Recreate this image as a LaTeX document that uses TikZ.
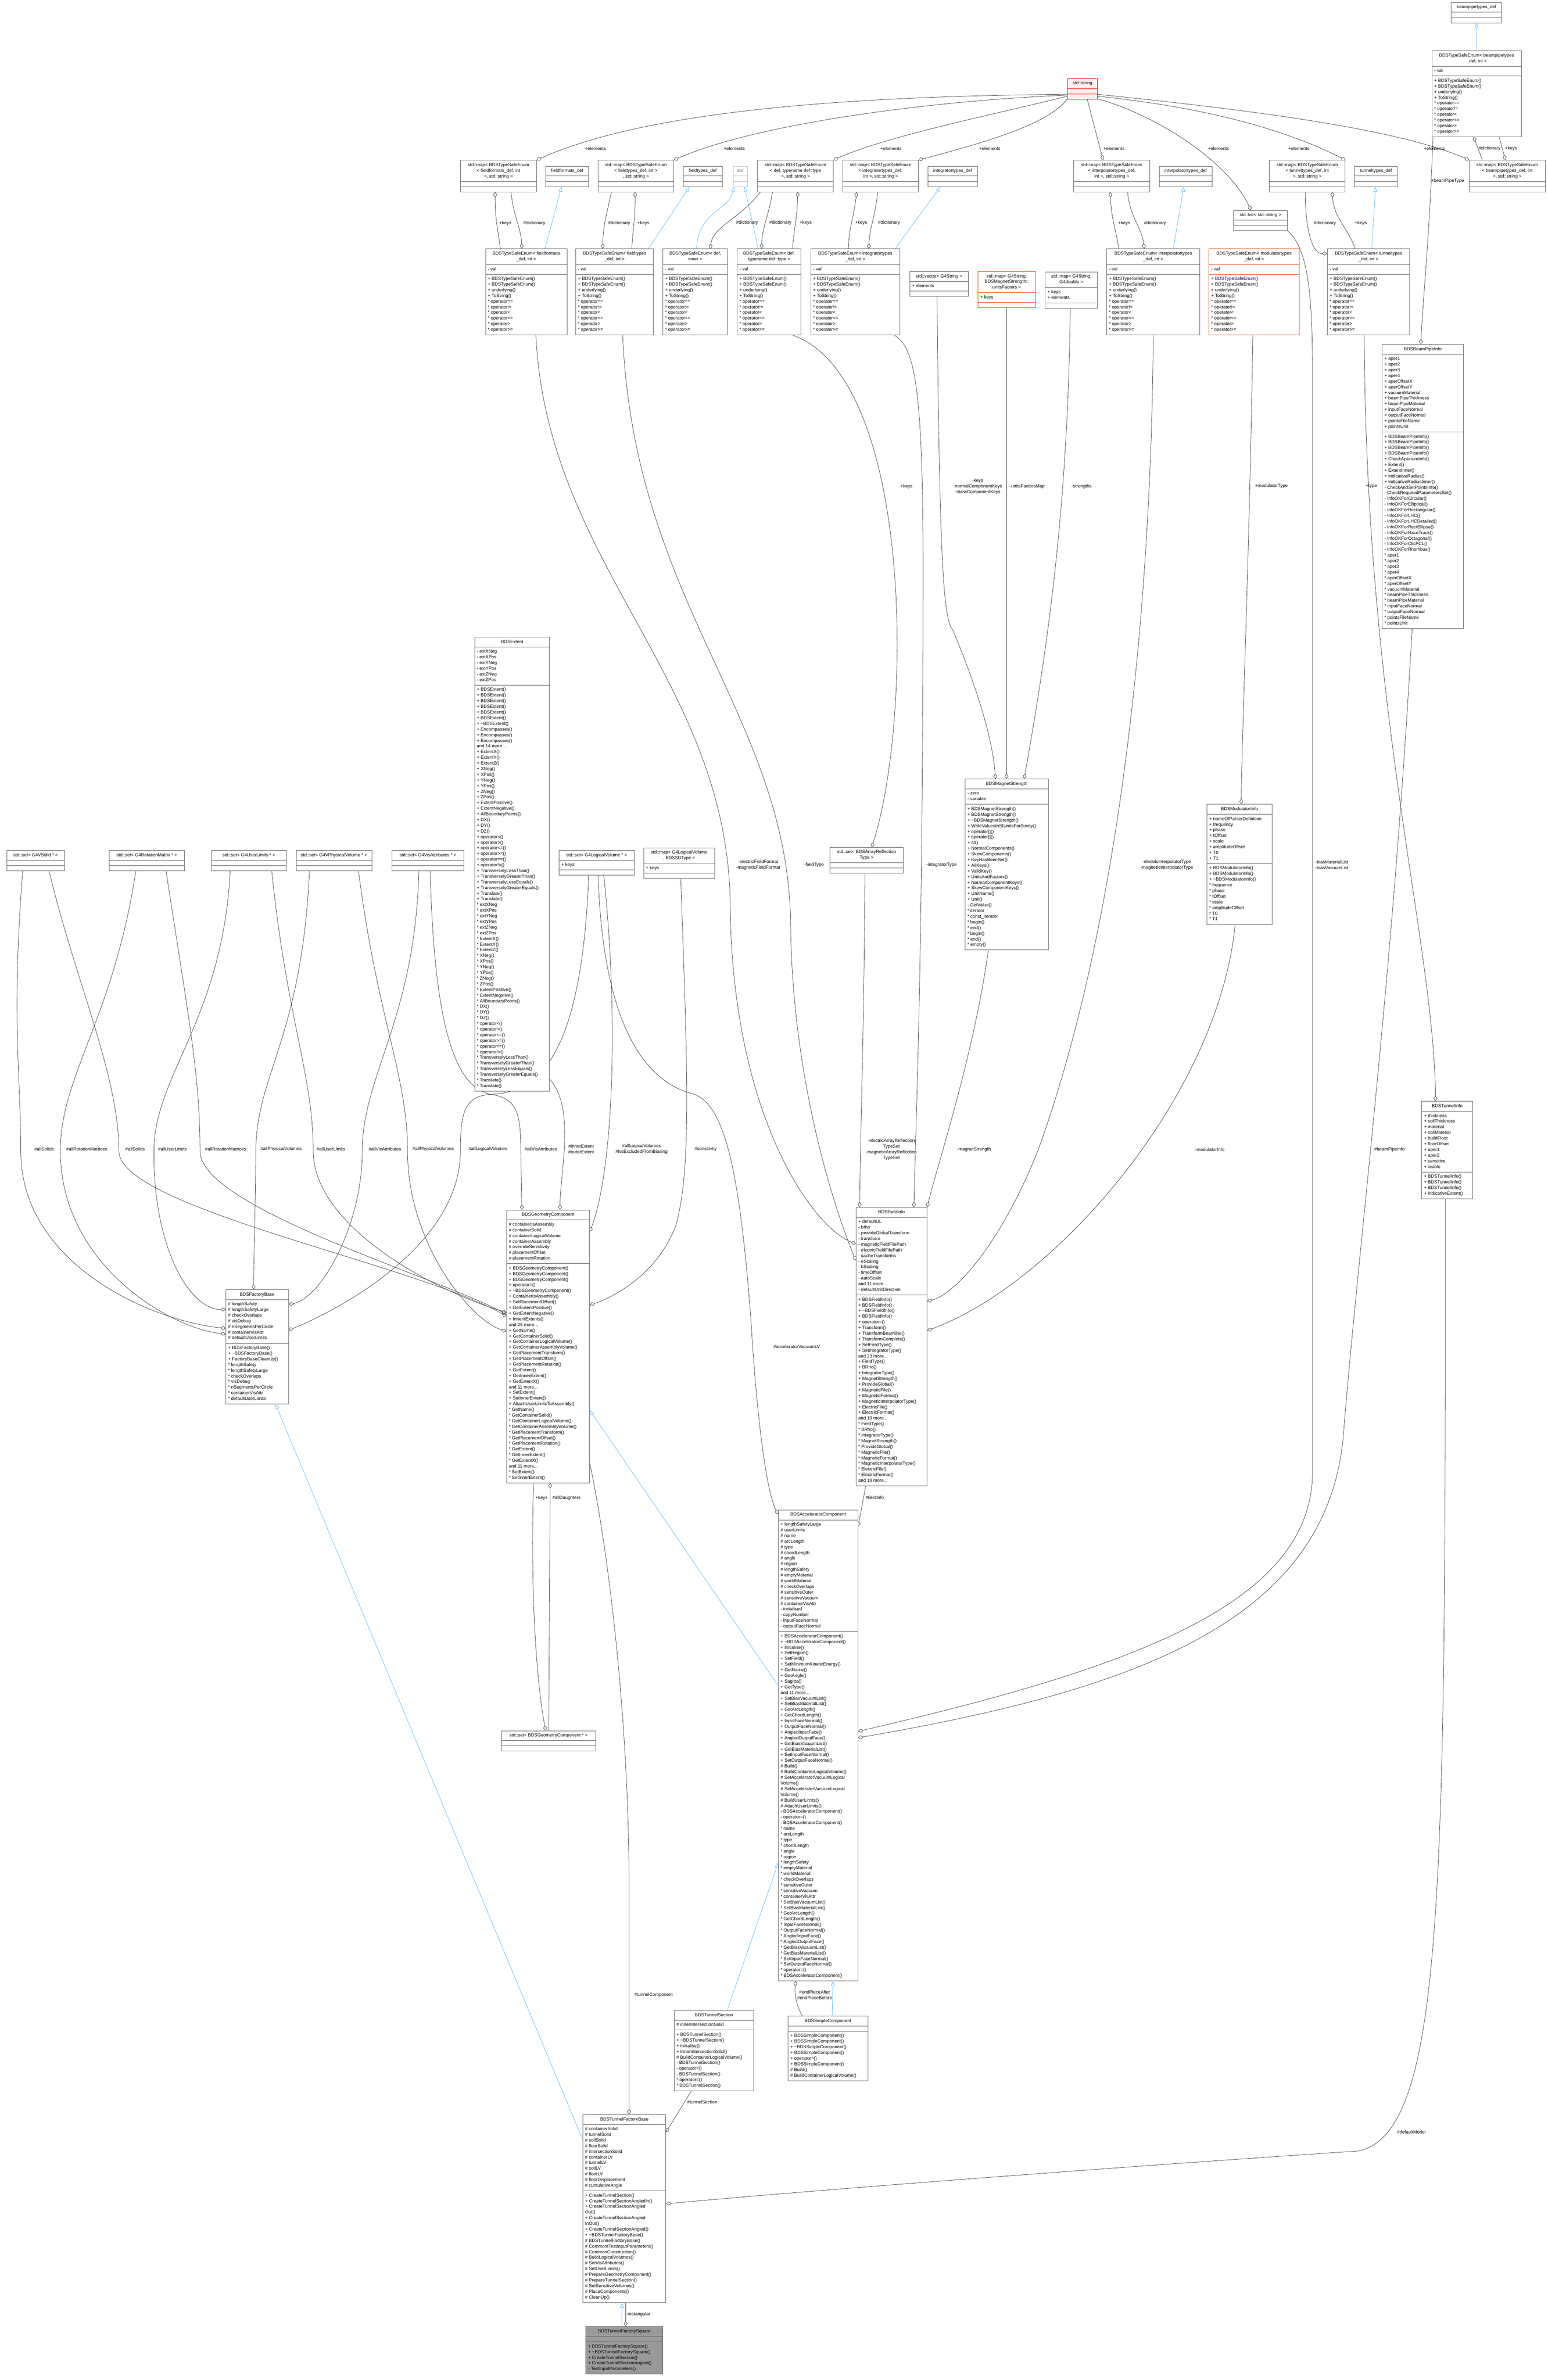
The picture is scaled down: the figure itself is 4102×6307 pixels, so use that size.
\documentclass[tikz,border=0pt]{standalone}
\usepackage{fontspec}
\setmainfont{Liberation Sans}
\usetikzlibrary{shapes.multipart,arrows.meta}
\definecolor{boxc}{HTML}{666666}
\definecolor{edgec}{HTML}{404040}
\definecolor{inhc}{HTML}{63B8FF}
\definecolor{redc}{HTML}{FF0000}
\definecolor{redf}{HTML}{FFF0F0}
\definecolor{orc}{HTML}{F4511E}
\definecolor{greyf}{HTML}{999999}
\definecolor{defc}{HTML}{BFBFBF}
\pgfdeclarelayer{bg}
\pgfsetlayers{bg,main}
\newcommand\fs{\fontsize{6}{7.5}\selectfont}
\newcommand\cT[1]{\begin{tabular}{@{}c@{}}#1\end{tabular}}
\newcommand\cM[1]{\begin{tabular}{@{}l@{}}#1\end{tabular}}
\newcommand\tld{\textasciitilde}
\newcommand\tsem{+ BDSTypeSafeEnum()\\+ BDSTypeSafeEnum()\\+ underlying()\\+ ToString()\\{*} operator==\\{*} operator!=\\{*} operator<\\{*} operator<=\\{*} operator>\\{*} operator>=}
\newcommand\cls[7][]{\node[cbox,minimum width=#4*0.5pt,#1] (#2) at (#3) {\cT{#5}\nodepart{two}\cM{#6}\nodepart{three}\cM{#7}};}
\tikzset{
 cbox/.style={rectangle split, rectangle split parts=3, draw=boxc, fill=white, line width=0.5pt, inner xsep=3pt, inner ysep=2.5pt, anchor=north west, font=\fs, rectangle split part align={center,left,left}},
 redbox/.style={draw=redc, fill=redf},
 orbox/.style={draw=orc},
 defbox/.style={draw=defc, text=black!60},
 thisbox/.style={fill=greyf, draw=boxc},
 agg/.style={draw=edgec, line width=0.5pt, -{Diamond[open,length=7pt,width=5pt]}},
 inh/.style={draw=inhc, line width=0.5pt, -{Triangle[open,length=6.5pt,width=5pt]}},
 lbl/.style={font=\fs, align=center, inner sep=0pt, text=black}
}
\begin{document}
\begin{tikzpicture}[x=0.5pt,y=-0.5pt]
\useasboundingbox (0,0) rectangle (4102,6307);
% ---------------- classes ----------------
\cls{bptdef}{3845,6}{134}{beampipetypes\_def}{}{}
\cls{tsebp}{3794,134}{237}{BDSTypeSafeEnum< beampipetypes\\\_def, int >}{- val}{\tsem}
\cls[redbox]{str}{2828,208}{80}{std::string}{}{}
\cls{mapff}{1220,424}{201}{std::map< BDSTypeSafeEnum\\< fieldformats\_def, int\\ >, std::string >}{}{}
\cls{ffdef}{1446,440}{113}{fieldformats\_def}{}{}
\cls{mapft}{1584,424}{201}{std::map< BDSTypeSafeEnum\\< fieldtypes\_def, int >\\, std::string >}{}{}
\cls{ftdef}{1810,440}{103}{fieldtypes\_def}{}{}
\cls[defbox]{defb}{1942,440}{38}{def}{}{}
\cls{mapdef}{2007,424}{201}{std::map< BDSTypeSafeEnum\\< def, typename def::type\\ >, std::string >}{}{}
\cls{mapit}{2233,424}{200}{std::map< BDSTypeSafeEnum\\< integratortypes\_def,\\ int >, std::string >}{}{}
\cls{itdef}{2458,440}{132}{integratortypes\_def}{}{}
\cls{mapip}{2845,424}{201}{std::map< BDSTypeSafeEnum\\< interpolatortypes\_def,\\ int >, std::string >}{}{}
\cls{ipdef}{3071,440}{141}{interpolatortypes\_def}{}{}
\cls{maptt}{3363,424}{201}{std::map< BDSTypeSafeEnum\\< tunneltypes\_def, int\\ >, std::string >}{}{}
\cls{ttdef}{3589,440}{113}{tunneltypes\_def}{}{}
\cls{mapbp}{3893,424}{201}{std::map< BDSTypeSafeEnum\\< beampipetypes\_def, int\\ >, std::string >}{}{}
\cls{lst}{3268,557}{143}{std::list< std::string >}{}{}
\cls{tseff}{1286,659}{216}{BDSTypeSafeEnum< fieldformats\\\_def, int >}{- val}{\tsem}
\cls{tseft}{1525,659}{206}{BDSTypeSafeEnum< fieldtypes\\\_def, int >}{- val}{\tsem}
\cls{tsedi}{1756,659}{172}{BDSTypeSafeEnum< def,\\ inner >}{- val}{\tsem}
\cls{tsedt}{1953,659}{169}{BDSTypeSafeEnum< def,\\ typename def::type >}{- val}{\tsem}
\cls{tseit}{2148,659}{236}{BDSTypeSafeEnum< integratortypes\\\_def, int >}{- val}{\tsem}
\cls{tseip}{2932,659}{247}{BDSTypeSafeEnum< interpolatortypes\\\_def, int >}{- val}{\tsem}
\cls[orbox]{tsemod}{3203,659}{239}{BDSTypeSafeEnum< modulatortypes\\\_def, int >}{- val}{\tsem}
\cls{tsett}{3517,659}{218}{BDSTypeSafeEnum< tunneltypes\\\_def, int >}{- val}{\tsem}
\cls{vec}{2410,719}{156}{std::vector< G4String >}{+ elements}{}
\cls[orbox]{mapuf}{2591,719}{152}{std::map< G4String,\\ BDSMagnetStrength::\\ unitsFactors >}{+ keys}{}
\cls{mapgd}{2769,720}{139}{std::map< G4String,\\ G4double >}{+ keys\\+ elements}{}
\cls{bpi}{3662,912}{215}{BDSBeamPipeInfo}{+ aper1\\+ aper2\\+ aper3\\+ aper4\\+ aperOffsetX\\+ aperOffsetY\\+ vacuumMaterial\\+ beamPipeThickness\\+ beamPipeMaterial\\+ inputFaceNormal\\+ outputFaceNormal\\+ pointsFileName\\+ pointsUnit}{+ BDSBeamPipeInfo()\\+ BDSBeamPipeInfo()\\+ BDSBeamPipeInfo()\\+ BDSBeamPipeInfo()\\+ CheckApertureInfo()\\+ Extent()\\+ ExtentInner()\\+ IndicativeRadius()\\+ IndicativeRadiusInner()\\- CheckAndSetPointsInfo()\\- CheckRequiredParametersSet()\\- InfoOKForCircular()\\- InfoOKForElliptical()\\- InfoOKForRectangular()\\- InfoOKForLHC()\\- InfoOKForLHCDetailed()\\- InfoOKForRectEllipse()\\- InfoOKForRaceTrack()\\- InfoOKForOctagonal()\\- InfoOKForClicPCL()\\- InfoOKForRhombus()\\{*} aper1\\{*} aper2\\{*} aper3\\{*} aper4\\{*} aperOffsetX\\{*} aperOffsetY\\{*} vacuumMaterial\\{*} beamPipeThickness\\{*} beamPipeMaterial\\{*} inputFaceNormal\\{*} outputFaceNormal\\{*} pointsFileName\\{*} pointsUnit}
\cls{ext}{1257,1688}{199}{BDSExtent}{- extXNeg\\- extXPos\\- extYNeg\\- extYPos\\- extZNeg\\- extZPos}{+ BDSExtent()\\+ BDSExtent()\\+ BDSExtent()\\+ BDSExtent()\\+ BDSExtent()\\+ BDSExtent()\\+ \tld{}BDSExtent()\\+ Encompasses()\\+ Encompasses()\\+ Encompasses()\\and 14 more...\\+ ExtentX()\\+ ExtentY()\\+ ExtentZ()\\+ XNeg()\\+ XPos()\\+ YNeg()\\+ YPos()\\+ ZNeg()\\+ ZPos()\\+ ExtentPositive()\\+ ExtentNegative()\\+ AllBoundaryPoints()\\+ DX()\\+ DY()\\+ DZ()\\+ operator<()\\+ operator>()\\+ operator<=()\\+ operator>=()\\+ operator==()\\+ operator!=()\\+ TransverselyLessThan()\\+ TransverselyGreaterThan()\\+ TransverselyLessEquals()\\+ TransverselyGreaterEquals()\\+ Translate()\\+ Translate()\\{*} extXNeg\\{*} extXPos\\{*} extYNeg\\{*} extYPos\\{*} extZNeg\\{*} extZPos\\{*} ExtentX()\\{*} ExtentY()\\{*} ExtentZ()\\{*} XNeg()\\{*} XPos()\\{*} YNeg()\\{*} YPos()\\{*} ZNeg()\\{*} ZPos()\\{*} ExtentPositive()\\{*} ExtentNegative()\\{*} AllBoundaryPoints()\\{*} DX()\\{*} DY()\\{*} DZ()\\{*} operator<()\\{*} operator>()\\{*} operator<=()\\{*} operator>=()\\{*} operator==()\\{*} operator!=()\\{*} TransverselyLessThan()\\{*} TransverselyGreaterThan()\\{*} TransverselyLessEquals()\\{*} TransverselyGreaterEquals()\\{*} Translate()\\{*} Translate()}
\cls{sSolid}{18,2253}{152}{std::set< G4VSolid * >}{}{}
\cls{sRot}{289,2253}{199}{std::set< G4RotationMatrix * >}{}{}
\cls{sUL}{560,2253}{198}{std::set< G4UserLimits * >}{}{}
\cls{sPV}{784,2253}{201}{std::set< G4VPhysicalVolume * >}{}{}
\cls{sVis}{1038,2253}{191}{std::set< G4VisAttributes * >}{}{}
\cls{sLV}{1481,2253}{199}{std::set< G4LogicalVolume * >}{+ keys}{}
\cls{mSD}{1705,2246}{188}{std::map< G4LogicalVolume\\ *, BDSSDType >}{+ keys}{}
\cls{sAR}{2199,2245}{194}{std::set< BDSArrayReflection\\Type >}{}{}
\cls{magstr}{2557,2064}{220}{BDSMagnetStrength}{- zero\\- variable}{+ BDSMagnetStrength()\\+ BDSMagnetStrength()\\+ \tld{}BDSMagnetStrength()\\+ WriteValuesInSIUnitsForSuvey()\\+ operator[]()\\+ operator[]()\\+ at()\\+ NormalComponents()\\+ SkewComponents()\\+ KeyHasBeenSet()\\+ AllKeys()\\+ ValidKey()\\+ UnitsAndFactors()\\+ NormalComponentKeys()\\+ SkewComponentKeys()\\+ UnitName()\\+ Unit()\\- GetValue()\\{*} iterator\\{*} const\_iterator\\{*} begin()\\{*} end()\\{*} begin()\\{*} end()\\{*} empty()}
\cls{modinfo}{3198,2131}{172}{BDSModulatorInfo}{+ nameOfParserDefinition\\+ frequency\\+ phase\\+ tOffset\\+ scale\\+ amplitudeOffset\\+ T0\\+ T1}{+ BDSModulatorInfo()\\+ BDSModulatorInfo()\\+ \tld{}BDSModulatorInfo()\\{*} frequency\\{*} phase\\{*} tOffset\\{*} scale\\{*} amplitudeOffset\\{*} T0\\{*} T1}
\cls{tinfo}{3767,2918}{135}{BDSTunnelInfo}{+ thickness\\+ soilThickness\\+ material\\+ soilMaterial\\+ buildFloor\\+ floorOffset\\+ aper1\\+ aper2\\+ sensitive\\+ visible}{+ BDSTunnelInfo()\\+ BDSTunnelInfo()\\+ BDSTunnelInfo()\\+ IndicativeExtent()}
\cls{fbase}{598,3417}{166}{BDSFactoryBase}{\# lengthSafety\\\# lengthSafetyLarge\\\# checkOverlaps\\\# visDebug\\\# nSegmentsPerCircle\\\# containerVisAttr\\\# defaultUserLimits}{+ BDSFactoryBase()\\+ \tld{}BDSFactoryBase()\\+ FactoryBaseCleanUp()\\{*} lengthSafety\\{*} lengthSafetyLarge\\{*} checkOverlaps\\{*} visDebug\\{*} nSegmentsPerCircle\\{*} containerVisAttr\\{*} defaultUserLimits}
\cls{geom}{1342,3206}{220}{BDSGeometryComponent}{\# containerIsAssembly\\\# containerSolid\\\# containerLogicalVolume\\\# containerAssembly\\\# overrideSensitivity\\\# placementOffset\\\# placementRotation}{+ BDSGeometryComponent()\\+ BDSGeometryComponent()\\+ BDSGeometryComponent()\\+ operator=()\\+ \tld{}BDSGeometryComponent()\\+ ContainerIsAssembly()\\+ SetPlacementOffset()\\+ GetExtentPositive()\\+ GetExtentNegative()\\+ InheritExtents()\\and 25 more...\\+ GetName()\\+ GetContainerSolid()\\+ GetContainerLogicalVolume()\\+ GetContainerAssemblyVolume()\\+ GetPlacementTransform()\\+ GetPlacementOffset()\\+ GetPlacementRotation()\\+ GetExtent()\\+ GetInnerExtent()\\+ GetExtentX()\\and 11 more...\\+ SetExtent()\\+ SetInnerExtent()\\+ AttachUserLimitsToAssembly()\\{*} GetName()\\{*} GetContainerSolid()\\{*} GetContainerLogicalVolume()\\{*} GetContainerAssemblyVolume()\\{*} GetPlacementTransform()\\{*} GetPlacementOffset()\\{*} GetPlacementRotation()\\{*} GetExtent()\\{*} GetInnerExtent()\\{*} GetExtentX()\\and 11 more...\\{*} SetExtent()\\{*} SetInnerExtent()}
\cls{finfo}{2268,3199}{188}{BDSFieldInfo}{+ defaultUL\\- brho\\- provideGlobalTransform\\- transform\\- magneticFieldFilePath\\- electricFieldFilePath\\- cacheTransforms\\- eScaling\\- bScaling\\- timeOffset\\- autoScale\\and 11 more...\\- defaultUnitDirection}{+ BDSFieldInfo()\\+ BDSFieldInfo()\\+ \tld{}BDSFieldInfo()\\+ BDSFieldInfo()\\+ operator=()\\+ Transform()\\+ TransformBeamline()\\+ TransformComplete()\\+ SetFieldType()\\+ SetIntegratorType()\\and 23 more...\\+ FieldType()\\+ BRho()\\+ IntegratorType()\\+ MagnetStrength()\\+ ProvideGlobal()\\+ MagneticFile()\\+ MagneticFormat()\\+ MagneticInterpolatorType()\\+ ElectricFile()\\+ ElectricFormat()\\and 19 more...\\{*} FieldType()\\{*} BRho()\\{*} IntegratorType()\\{*} MagnetStrength()\\{*} ProvideGlobal()\\{*} MagneticFile()\\{*} MagneticFormat()\\{*} MagneticInterpolatorType()\\{*} ElectricFile()\\{*} ElectricFormat()\\and 19 more...}
\cls{acc}{2062,4001}{211}{BDSAcceleratorComponent}{+ lengthSafetyLarge\\\# userLimits\\\# name\\\# arcLength\\\# type\\\# chordLength\\\# angle\\\# region\\\# lengthSafety\\\# emptyMaterial\\\# worldMaterial\\\# checkOverlaps\\\# sensitiveOuter\\\# sensitiveVacuum\\\# containerVisAttr\\- initialised\\- copyNumber\\- inputFaceNormal\\- outputFaceNormal}{+ BDSAcceleratorComponent()\\+ \tld{}BDSAcceleratorComponent()\\+ Initialise()\\+ SetRegion()\\+ SetField()\\+ SetMinimumKineticEnergy()\\+ GetName()\\+ GetAngle()\\+ Sagitta()\\+ GetType()\\and 11 more...\\+ SetBiasVacuumList()\\+ SetBiasMaterialList()\\+ GetArcLength()\\+ GetChordLength()\\+ InputFaceNormal()\\+ OutputFaceNormal()\\+ AngledInputFace()\\+ AngledOutputFace()\\+ GetBiasVacuumList()\\+ GetBiasMaterialList()\\+ SetInputFaceNormal()\\+ SetOutputFaceNormal()\\\# Build()\\\# BuildContainerLogicalVolume()\\\# SetAcceleratorVacuumLogical\\Volume()\\\# SetAcceleratorVacuumLogical\\Volume()\\\# BuildUserLimits()\\\# AttachUserLimits()\\- BDSAcceleratorComponent()\\- operator=()\\- BDSAcceleratorComponent()\\{*} name\\{*} arcLength\\{*} type\\{*} chordLength\\{*} angle\\{*} region\\{*} lengthSafety\\{*} emptyMaterial\\{*} worldMaterial\\{*} checkOverlaps\\{*} sensitiveOuter\\{*} sensitiveVacuum\\{*} containerVisAttr\\{*} SetBiasVacuumList()\\{*} SetBiasMaterialList()\\{*} GetArcLength()\\{*} GetChordLength()\\{*} InputFaceNormal()\\{*} OutputFaceNormal()\\{*} AngledInputFace()\\{*} AngledOutputFace()\\{*} GetBiasVacuumList()\\{*} GetBiasMaterialList()\\{*} SetInputFaceNormal()\\{*} SetOutputFaceNormal()\\{*} operator=()\\{*} BDSAcceleratorComponent()}
\cls{sgc}{1328,4586}{250}{std::set< BDSGeometryComponent * >}{}{}
\cls{tsec}{1786,5327}{211}{BDSTunnelSection}{\# innerIntersectionSolid}{+ BDSTunnelSection()\\+ \tld{}BDSTunnelSection()\\+ Initialise()\\+ InnerIntersectionSolid()\\\# BuildContainerLogicalVolume()\\- BDSTunnelSection()\\- operator=()\\- BDSTunnelSection()\\{*} operator=()\\{*} BDSTunnelSection()}
\cls{simple}{2088,5342}{211}{BDSSimpleComponent}{}{+ BDSSimpleComponent()\\+ BDSSimpleComponent()\\+ \tld{}BDSSimpleComponent()\\+ BDSSimpleComponent()\\+ operator=()\\+ BDSSimpleComponent()\\\# Build()\\\# BuildContainerLogicalVolume()}
\cls{tfb}{1544,5603}{220}{BDSTunnelFactoryBase}{\# containerSolid\\\# tunnelSolid\\\# soilSolid\\\# floorSolid\\\# intersectionSolid\\\# containerLV\\\# tunnelLV\\\# soilLV\\\# floorLV\\\# floorDisplacement\\\# cumulativeAngle}{+ CreateTunnelSection()\\+ CreateTunnelSectionAngledIn()\\+ CreateTunnelSectionAngled\\Out()\\+ CreateTunnelSectionAngled\\InOut()\\+ CreateTunnelSectionAngled()\\+ \tld{}BDSTunnelFactoryBase()\\\# BDSTunnelFactoryBase()\\\# CommontTestInputParameters()\\\# CommonConstruction()\\\# BuildLogicalVolumes()\\\# SetVisAttributes()\\\# SetUserLimits()\\\# PrepareGeometryComponent()\\\# PrepareTunnelSection()\\\# SetSensitiveVolumes()\\\# PlaceComponents()\\\# CleanUp()}
\cls[thisbox]{tfs}{1552,6165}{204}{BDSTunnelFactorySquare}{}{+ BDSTunnelFactorySquare()\\+ \tld{}BDSTunnelFactorySquare()\\+ CreateTunnelSection()\\+ CreateTunnelSectionAngled()\\- TestInputParameters()}
% ---------------- connectors ----------------
\begin{pgfonlayer}{bg}
\fill[white] (0,0) rectangle (4102,6307);
% std::string -> containers
\draw[agg] (str.west |- 0,250) .. controls (2200,255) and (1700,300) .. (mapff.north east);
\draw[agg] (str.west |- 0,252) .. controls (2450,268) and (2000,330) .. (mapft.north east);
\draw[agg] (str.west |- 0,255) .. controls (2650,300) and (2350,360) .. (mapdef.north east);
\draw[agg] (str.west |- 0,262) .. controls (2780,330) and (2600,380) .. (mapit.north east);
\draw[agg] (str.south -| 2881,0) -- (mapip.north -| 2923,0);
\draw[agg] (str.east |- 0,262) .. controls (3050,300) and (3250,420) .. (lst.north -| 3315,0);
\draw[agg] (str.east |- 0,255) .. controls (3150,280) and (3380,330) .. (maptt.north east);
\draw[agg] (str.east |- 0,250) .. controls (3300,290) and (3700,340) .. (mapbp.north west);
% beampipetypes
\draw[inh] (tsebp.north -| 3913,0) -- (bptdef.south -| 3913,0);
\draw[agg] (mapbp.north -| 3928,0) -- (tsebp.south -| 3905,0);
\draw[agg] (tsebp.south -| 3973,0) -- (mapbp.north -| 3989,0);
\draw[agg] (tsebp.south -| 3797,0) .. controls (3790,600) and (3770,800) .. (bpi.north -| 3765,0);
% fieldformats
\draw[agg] (tseff.north -| 1326,0) .. controls (1318,600) and (1312,580) .. (mapff.south -| 1312,0);
\draw[agg] (mapff.south -| 1354,0) .. controls (1362,580) and (1380,600) .. (tseff.north -| 1383,0);
\draw[inh] (tseff.north -| 1444,0) -- (ffdef.south -| 1488,0);
% fieldtypes
\draw[agg] (mapft.south -| 1620,0) .. controls (1605,580) and (1598,600) .. (tseft.north -| 1597,0);
\draw[agg] (tseft.north -| 1674,0) .. controls (1678,600) and (1683,580) .. (mapft.south -| 1683,0);
\draw[inh] (tseft.north -| 1718,0) -- (ftdef.south -| 1827,0);
% def
\draw[inh] (tsedi.north -| 1846,0) .. controls (1850,560) and (1930,560) .. (defb.south -| 1945,0);
\draw[inh] (tsedt.north -| 2009,0) -- (defb.south -| 1973,0);
\draw[agg] (mapdef.south -| 2015,0) .. controls (1960,580) and (1890,600) .. (tsedi.north -| 1882,0);
\draw[agg] (mapdef.south -| 2047,0) .. controls (2035,580) and (2020,600) .. (tsedt.north -| 2018,0);
\draw[agg] (tsedt.north -| 2100,0) .. controls (2105,600) and (2112,580) .. (mapdef.south -| 2114,0);
% integratortypes
\draw[agg] (tseit.north -| 2248,0) .. controls (2250,600) and (2262,580) .. (mapit.south -| 2270,0);
\draw[agg] (mapit.south -| 2326,0) .. controls (2318,580) and (2305,600) .. (tseit.north -| 2302,0);
\draw[inh] (tseit.north -| 2372,0) -- (itdef.south -| 2492,0);
% interpolatortypes
\draw[agg] (tseip.north -| 2965,0) .. controls (2955,600) and (2945,580) .. (mapip.south -| 2942,0);
\draw[agg] (mapip.south -| 2988,0) .. controls (2995,580) and (3025,600) .. (tseip.north -| 3032,0);
\draw[inh] (tseip.north -| 3109,0) -- (ipdef.south -| 3137,0);
% tunneltypes
\draw[agg] (maptt.south -| 3459,0) .. controls (3459,620) and (3480,672) .. (tsett.west |- 0,672);
\draw[agg] (tsett.north -| 3591,0) .. controls (3570,600) and (3535,580) .. (maptt.south -| 3530,0);
\draw[inh] (tsett.north -| 3635,0) -- (ttdef.south -| 3645,0);
% array reflection, field info
\draw[agg] (tsedt.south -| 2100,0) .. controls (2420,1000) and (2420,1900) .. (sAR.north -| 2310,0);
\draw[agg] (sAR.south -| 2292,0) .. controls (2290,2700) and (2280,3000) .. (finfo.north -| 2278,0);
\draw[agg] (tseft.south -| 1650,0) .. controls (1680,1600) and (2090,1900) .. (2095,2450) .. controls (2100,2900) and (2230,3250) .. (finfo.west |- 0,3340);
\draw[agg] (tseff.south -| 1420,0) .. controls (1450,1500) and (1930,1800) .. (1935,2400) .. controls (1940,2950) and (2150,3250) .. (finfo.west |- 0,3296);
\draw[agg] (tseit.south -| 2370,0) .. controls (2420,920) and (2446,1000) .. (2446,1500) .. controls (2446,2600) and (2425,3000) .. (finfo.north -| 2422,0);
\draw[agg] (vec.south -| 2483,0) .. controls (2490,1500) and (2500,1640) .. (2525,1670) .. controls (2580,1800) and (2630,1950) .. (magstr.north -| 2638,0);
\draw[agg] (mapuf.south -| 2667,0) -- (magstr.north -| 2667,0);
\draw[agg] (mapgd.south -| 2836,0) .. controls (2830,1400) and (2760,1800) .. (magstr.north -| 2714,0);
\draw[agg] (magstr.south -| 2619,0) .. controls (2580,2800) and (2480,3100) .. (finfo.north east);
\draw[agg] (tseip.south -| 3056,0) .. controls (3050,1700) and (2950,2500) .. (2750,3050) .. controls (2650,3300) and (2530,3430) .. (finfo.east |- 0,3448);
\draw[agg] (modinfo.south -| 3273,0) .. controls (3230,2900) and (2800,3400) .. (finfo.east |- 0,3526);
\draw[agg] (tsemod.south -| 3320,0) .. controls (3310,1500) and (3292,1900) .. (modinfo.north -| 3289,0);
\draw[agg] (tsett.south -| 3615,0) .. controls (3620,1900) and (3800,2500) .. (tinfo.north -| 3804,0);
% accelerator component
\draw[agg] (lst.south east) .. controls (3470,660) and (3478,800) .. (3478,1000) -- (3478,3900) .. controls (3478,4250) and (3000,4420) .. (acc.east |- 0,4588);
\draw[agg] (bpi.south -| 3742,0) .. controls (3690,2600) and (3600,3300) .. (3560,3800) .. controls (3520,4300) and (3000,4480) .. (acc.east |- 0,4605);
\draw[agg] (finfo.south -| 2294,0) -- (acc.east |- 0,4045);
\draw[agg] (sLV.south -| 1585,0) .. controls (1600,2800) and (1760,2880) .. (1840,2900) .. controls (1920,2930) and (1960,3100) .. (1990,3500) .. controls (2005,3750) and (2030,3950) .. (acc.west |- 0,4013);
\draw[inh] (acc.west |- 0,4467) -- (geom.east |- 0,3737);
\draw[inh] (tsec.north -| 1927,0) -- (acc.west |- 0,4937);
\draw[inh] (simple.north -| 2205,0) -- (acc.south -| 2207,0);
\draw[agg] (simple.north -| 2126,0) .. controls (2108,5310) and (2105,5280) .. (acc.south -| 2109,0);
% geometry component and factory base
\draw[agg] (sSolid.south -| 60,0) .. controls (30,2700) and (55,2850) .. (55,3050) .. controls (55,3350) and (400,3500) .. (fbase.west |- 0,3520);
\draw[agg] (sSolid.south -| 130,0) .. controls (200,2600) and (315,2850) .. (315,3050) .. controls (315,3200) and (1100,3350) .. (geom.west |- 0,3488);
\draw[agg] (sRot.south -| 360,0) .. controls (300,2700) and (160,2850) .. (160,3050) .. controls (160,3350) and (450,3520) .. (fbase.west |- 0,3535);
\draw[agg] (sRot.south -| 440,0) .. controls (500,2700) and (530,2850) .. (530,3050) .. controls (530,3200) and (1150,3380) .. (geom.west |- 0,3483);
\draw[agg] (sUL.south -| 610,0) .. controls (590,2700) and (408,2850) .. (408,3050) .. controls (405,3300) and (500,3470) .. (fbase.west |- 0,3470);
\draw[agg] (sUL.south -| 720,0) .. controls (760,2700) and (830,2850) .. (830,3050) .. controls (830,3250) and (1150,3420) .. (geom.west |- 0,3478);
\draw[agg] (sPV.south -| 820,0) .. controls (800,2750) and (678,2850) .. (678,3050) .. controls (676,3250) and (672,3350) .. (fbase.north -| 672,0);
\draw[agg] (sPV.south -| 950,0) .. controls (1000,2700) and (1080,2850) .. (1080,3050) .. controls (1080,3300) and (1250,3500) .. (geom.west |- 0,3528);
\draw[agg] (sVis.south -| 1110,0) .. controls (1100,2700) and (960,2850) .. (960,3050) .. controls (960,3250) and (850,3440) .. (fbase.east |- 0,3457);
\draw[agg] (sVis.south -| 1140,0) .. controls (1150,2700) and (1200,2880) .. (1300,2900) .. controls (1370,2910) and (1380,2950) .. (1380,3050) -- (geom.north -| 1383,0);
\draw[agg] (sLV.south -| 1560,0) .. controls (1540,2850) and (1400,2895) .. (1300,2900) .. controls (1230,2905) and (1220,2950) .. (1220,3050) .. controls (1220,3300) and (900,3470) .. (fbase.east |- 0,3525);
\draw[agg] (sLV.south -| 1600,0) .. controls (1640,2700) and (1625,3100) .. (geom.east |- 0,3264);
\draw[agg] (mSD.south -| 1804,0) .. controls (1820,2800) and (1835,3100) .. (1790,3250) .. controls (1740,3380) and (1620,3440) .. (geom.east |- 0,3458);
\draw[agg] (ext.east |- 0,2860) .. controls (1490,2900) and (1500,2950) .. (1495,3050) .. controls (1490,3120) and (1484,3160) .. (geom.north -| 1484,0);
\draw[agg] (geom.south -| 1414,0) .. controls (1405,4200) and (1420,4450) .. (sgc.north -| 1446,0);
\draw[agg] (sgc.north -| 1454,0) -- (geom.south -| 1458,0);
% tunnel factory
\draw[agg] (geom.east |- 0,3878) .. controls (1620,4150) and (1667,4600) .. (1667,5000) -- (tfb.north -| 1667,0);
\draw[agg] (tsec.south -| 1832,0) -- (tfb.east |- 0,5650);
\draw[agg] (tinfo.south -| 3830,0) .. controls (3830,5000) and (3830,5650) .. (3600,5700) .. controls (3000,5740) and (2200,5800) .. (tfb.east |- 0,5840);
\draw[inh] (tfb.west |- 0,5670) -- (fbase.south -| 730,0);
\draw[agg] (tfb.south -| 1658,0) -- (tfs.north -| 1658,0);
\draw[inh] (tfs.north -| 1648,0) -- (tfb.south -| 1648,0);
\end{pgfonlayer}
% ---------------- labels ----------------
\node[lbl] (e1) at (1578,394) {+elements};
\node[lbl] (e2) at (1946,394) {+elements};
\node[lbl] (e3) at (2361,394) {+elements};
\node[lbl] (e4) at (2623,394) {+elements};
\node[lbl] (e5) at (2952,394) {+elements};
\node[lbl] (e6) at (3229,394) {+elements};
\node[lbl] (e7) at (3442,394) {+elements};
\node[lbl] (e8) at (3801,394) {+elements};
\node[lbl] (k1) at (3947,394) {\#dictionary};
\node[lbl] (k2) at (4004,394) {+keys};
\node[lbl] (k3) at (3836,480) {+beamPipeType};
\node[lbl] (d1) at (1339,592) {+keys};
\node[lbl] (d2) at (1416,592) {\#dictionary};
\node[lbl] (d3) at (1641,592) {\#dictionary};
\node[lbl] (d4) at (1705,592) {+keys};
\node[lbl] (d5) at (1980,590) {\#dictionary};
\node[lbl] (d6) at (2068,590) {\#dictionary};
\node[lbl] (d7) at (2135,590) {+keys};
\node[lbl] (d8) at (2282,590) {+keys};
\node[lbl] (d9) at (2356,590) {\#dictionary};
\node[lbl] (d10) at (2979,592) {+keys};
\node[lbl] (d11) at (3061,592) {\#dictionary};
\node[lbl] (d12) at (3511,592) {\#dictionary};
\node[lbl] (d13) at (3606,592) {+keys};
\node[lbl] (m1) at (2402,1289) {+keys};
\node[lbl] (m2) at (2591,1289) {-keys\\-normalComponentKeys\\-skewComponentKeys};
\node[lbl] (m3) at (2722,1289) {-unitsFactorsMap};
\node[lbl] (m4) at (2866,1289) {-strengths};
\node[lbl] (m5) at (3369,1288) {+modulatorType};
\node[lbl] (m6) at (3634,1288) {+type};
\node[lbl] (f1) at (2009,2292) {-electricFieldFormat\\-magneticFieldFormat};
\node[lbl] (f2) at (2157,2292) {-fieldType};
\node[lbl] (f3) at (2495,2292) {-integratorType};
\node[lbl] (f4) at (3092,2292) {-electricInterpolatorType\\-magneticInterpolatorType};
\node[lbl] (f5) at (3529,2292) {-biasMaterialList\\-biasVacuumList};
\node[lbl] (f6) at (2362,3046) {-electricArrayReflection\\TypeSet\\-magneticArrayReflection\\TypeSet};
\node[lbl] (f7) at (2581,3046) {-magnetStrength};
\node[lbl] (f8) at (3206,3046) {-modulatorInfo};
\node[lbl] (f9) at (3682,3046) {\#beamPipeInfo};
\node[lbl] (g1) at (117,3045) {\#allSolids};
\node[lbl] (g2) at (230,3045) {\#allRotationMatrices};
\node[lbl] (g3) at (358,3045) {\#allSolids};
\node[lbl] (g4) at (457,3045) {\#allUserLimits};
\node[lbl] (g5) at (598,3045) {\#allRotationMatrices};
\node[lbl] (g6) at (745,3045) {\#allPhysicalVolumes};
\node[lbl] (g7) at (877,3045) {\#allUserLimits};
\node[lbl] (g8) at (1020,3045) {\#allVisAttributes};
\node[lbl] (g9) at (1148,3045) {\#allPhysicalVolumes};
\node[lbl] (g10) at (1293,3045) {\#allLogicalVolumes};
\node[lbl] (g11) at (1433,3045) {\#allVisAttributes};
\node[lbl] (g12) at (1540,3045) {\#innerExtent\\\#outerExtent};
\node[lbl] (g13) at (1700,3045) {\#allLogicalVolumes\\\#lvsExcludedFromBiasing};
\node[lbl] (g14) at (1870,3045) {\#sensitivity};
\node[lbl] (a1) at (2111,3568) {\#acceleratorVacuumLV};
\node[lbl] (a2) at (2318,3968) {\#fieldInfo};
\node[lbl] (a3) at (1435,3969) {+keys};
\node[lbl] (a4) at (1501,3969) {\#allDaughters};
\node[lbl] (t1) at (1732,5287) {\#tunnelComponent};
\node[lbl] (t2) at (2159,5287) {\#endPieceAfter\\\#endPieceBefore};
\node[lbl] (t3) at (1861,5571) {\#tunnelSection};
\node[lbl] (t4) at (3740,5650) {\#defaultModel};
\node[lbl] (t5) at (1691,6133) {-rectangular};
\end{tikzpicture}
\end{document}
